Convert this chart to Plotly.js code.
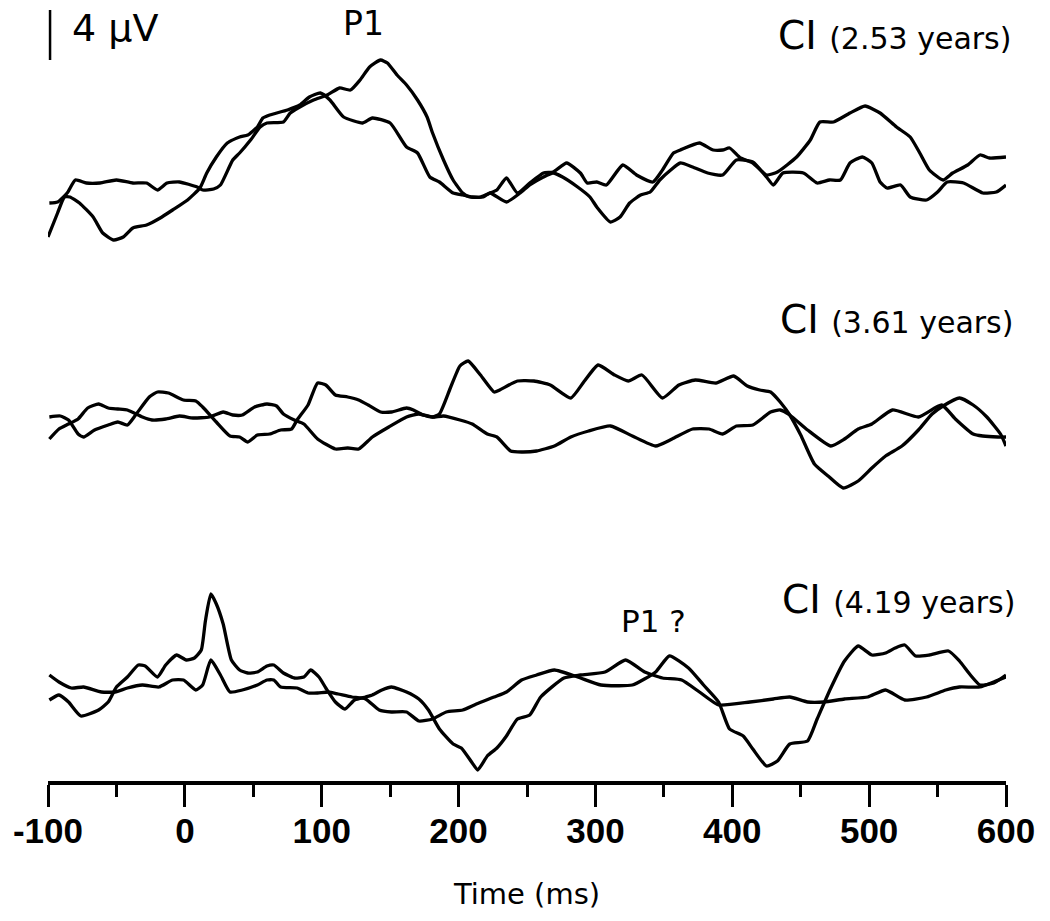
<!DOCTYPE html>
<html>
<head>
<meta charset="utf-8">
<script src="https://cdn.plot.ly/plotly-3.0.1.min.js"></script>
<style>html,body{margin:0;padding:0;background:#fff;}#chart{width:1050px;height:921px;}</style>
</head>
<body>
<div id="chart"></div>
<script>
// ---------------- DATA (time in ms, amplitude in microvolts) ----------------
// Panel 1: CI (2.53 years)
const tP1a = [-99,-93,-86,-80,-72,-62,-50,-38,-28,-20,-13,-4,9,13,21,26,35,40,48,55,60,72,77,84,94,104,113,121,128,135,143,148,155,162,170,177,181,189,196,203,208,216,223,228,235,243,252,262,269,279,289,294,301,308,320,330,342,349,357,362,376,386,393,398,406,415,425,433,447,457,464,474,486,497,508,520,530,537,544,554,561,572,581,588,600];
const vP1a = [-0.64,-0.56,0.16,1.2,0.96,0.96,1.2,0.96,0.96,0.4,0.96,1.04,0.64,0.4,0.48,0.8,2.8,3.36,4.4,5.44,5.76,5.84,6.56,7.04,7.6,8.0,8.56,8.4,9.2,10.24,10.8,10.56,9.6,8.8,7.6,6.24,4.96,2.8,1.2,0.16,-0.16,-0.16,0.16,0.4,1.36,0.16,0.96,1.76,1.84,2.56,1.76,0.96,1.04,0.8,2.4,1.6,1.04,2.0,3.36,3.6,4.16,3.6,3.6,3.76,2.96,2.56,1.6,1.84,3.04,4.4,5.84,5.84,6.56,7.12,6.56,5.44,4.64,3.36,2.0,1.2,1.76,2.4,3.2,2.96,3.04];
const tP1b = [-100,-93,-88,-84,-77,-67,-60,-52,-45,-38,-28,-18,-9,2,11,16,23,31,40,46,53,57,62,75,84,91,99,106,116,130,137,150,162,170,179,186,196,203,210,218,223,235,245,252,262,269,276,287,296,301,311,318,325,333,340,347,355,362,371,382,393,403,415,425,430,437,452,462,471,479,486,495,502,508,513,523,530,542,550,557,569,583,593,600];
const vP1b = [-3.36,-1.44,-0.16,-0.16,-0.64,-1.76,-3.04,-3.6,-3.36,-2.64,-2.4,-1.84,-1.2,-0.4,0.56,1.76,3.04,4.16,4.64,4.8,5.44,6.16,6.4,6.8,7.2,7.84,8.16,7.6,6.24,5.76,6.16,5.76,3.84,3.36,1.44,1.04,0.16,0,-0.16,-0.16,0.16,-0.56,0.16,0.8,1.44,1.76,1.44,0.64,-0.16,-0.96,-2.16,-1.76,-0.64,0,0.24,1.2,2.0,2.56,2.24,1.76,1.6,2.8,2.64,1.44,0.8,1.76,1.76,0.96,1.2,1.2,2.56,3.04,2.56,1.04,0.56,0.8,-0.16,-0.4,0.24,1.04,0.96,0.16,0.24,0.8];

// Panel 2: CI (3.61 years)
const tP2a = [-99,-91,-85,-78,-74,-66,-56,-49,-42,-36,-26,-20,-12,-1,8,13,23,33,40,46,53,62,70,78,82,90,97,103,110,119,127,134,143,151,162,167,174,181,186,194,201,207,216,226,230,243,255,267,282,292,302,314,324,334,349,361,373,388,401,411,420,428,435,442,450,460,470,481,492,502,512,524,536,546,554,566,576,586,596,600];
const vP2a = [0.24,0.32,0,-1.12,-1.36,-0.8,-0.4,-0.16,-0.4,0.4,1.84,2.24,2.16,1.6,1.52,1.04,-0.16,-1.28,-1.36,-1.76,-1.2,-1.12,-0.8,-0.72,0,1.2,2.96,2.8,2.0,1.84,1.6,1.2,0.64,0.64,0.96,0.8,0.4,0.24,0.48,2.56,4.32,4.72,3.6,2.24,2.4,3.12,3.12,2.8,1.76,3.12,4.4,3.6,3.12,3.6,1.76,2.8,3.2,2.96,3.52,2.72,2.4,2.24,1.44,0.4,-1.2,-3.52,-4.48,-5.44,-4.88,-3.84,-2.88,-2.08,-0.8,0.48,1.12,1.76,1.2,0.24,-1.12,-2.08];
const tP2b = [-99,-92,-85,-78,-71,-63,-56,-49,-42,-31,-24,-14,-4,6,18,28,35,42,51,60,67,72,80,87,97,110,119,127,137,149,162,171,181,189,201,210,221,228,238,246,257,270,282,295,311,327,344,356,371,383,393,403,415,428,435,442,455,472,482,492,502,517,536,553,563,576,583,594,600];
const vP2b = [-1.52,-0.72,-0.32,0.08,0.96,1.28,0.96,0.88,0.8,0.24,0,0.08,0.32,0.16,0.24,0.64,0.4,0.4,1.04,1.28,1.12,0.48,0,-0.32,-1.52,-2.32,-2.24,-2.32,-1.36,-0.56,0.24,0.48,0.24,0.32,0,-0.32,-1.12,-1.36,-2.48,-2.56,-2.48,-2.08,-1.36,-0.88,-0.48,-1.28,-2.08,-1.52,-0.72,-0.72,-1.12,-0.48,-0.4,0.64,0.8,0.4,-0.8,-2.08,-1.52,-0.72,-0.32,0.8,0.24,1.2,0.08,-1.12,-1.28,-1.36,-1.36];

// Panel 3: CI (4.19 years)
const tP3a = [-99,-92,-85,-76,-63,-56,-50,-42,-34,-29,-20,-14,-6,1,7,12,15,19,23,28,34,40,46,53,60,65,72,80,87,92,98,103,110,117,124,132,137,144,151,162,171,178,186,196,202,210,214,221,228,235,243,252,260,277,289,307,322,336,349,363,376,390,413,430,442,455,467,482,499,512,526,542,556,566,581,591,600];
const vP3a = [-1.2,-0.8,-1.36,-2.48,-2.0,-1.36,-0.16,0.64,1.6,1.52,0.64,1.6,2.4,2.0,2.16,2.8,5.12,7.28,6.48,4.88,2.0,1.2,0.96,1.04,1.52,1.6,0.96,0.56,0.64,1.2,0.64,-0.24,-1.36,-1.92,-1.2,-0.96,-0.8,-0.4,-0.16,-0.56,-1.12,-2.0,-3.52,-4.72,-5.04,-6.24,-6.8,-5.68,-5.04,-4.08,-2.72,-2.4,-0.96,0.56,0.8,1.04,2.0,1.04,0.56,0.4,-0.56,-1.6,-1.36,-1.12,-0.96,-1.36,-1.36,-1.12,-0.96,-0.4,-1.2,-0.96,-0.4,-0.16,-0.16,0.24,0.64];
const tP3b = [-99,-92,-83,-74,-61,-51,-42,-31,-19,-9,-1,8,13,19,26,33,42,53,60,65,70,82,90,97,105,112,122,132,142,151,162,171,181,191,203,213,226,235,246,257,270,287,304,327,344,354,368,379,390,398,408,415,425,433,442,455,462,472,482,492,502,512,519,526,534,544,558,566,574,581,591,600];
const vP3b = [0.8,0.24,-0.24,-0.16,-0.56,-0.56,-0.24,0,-0.16,0.4,0.4,-0.4,0,2.0,0.8,-0.56,-0.4,0,0.4,0.4,-0.16,-0.24,-0.64,-0.64,-0.56,-0.72,-0.96,-1.12,-2.0,-2.16,-2.16,-2.88,-2.72,-2.16,-2.0,-1.52,-0.96,-0.56,0.4,0.8,1.2,0.64,0,0,1.04,2.32,1.36,0,-1.36,-3.52,-4.08,-5.12,-6.48,-6.08,-4.72,-4.48,-2.72,-0.24,1.92,3.12,2.4,2.56,2.96,3.2,2.32,2.4,2.72,1.92,0.8,0,0.16,0.8];

const panelLabels = ["2.53 years", "3.61 years", "4.19 years"];
const xTickVals = [-100, 0, 100, 200, 300, 400, 500, 600];
const scaleBarUV = 4;

// ---------------- LAYOUT / DRAWING ----------------
const W = 1050, H = 921;
const mL = 48, mR = 44, mT = 0, mB = 140;
const plotW = W - mL - mR, plotH = H - mT - mB;
const pxPerUV = 12.5;                       // vertical scale
const yMax = plotH / pxPerUV;               // y range in microvolts
const offsets = [(plotH - 195) / pxPerUV, (plotH - 420) / pxPerUV, (plotH - 685) / pxPerUV];

const px2x = p => (p - mL) / plotW;         // pixel -> paper
const py2y = p => (plotH + mT - p) / plotH;

const series = [
  [tP1a, vP1a, 0], [tP1b, vP1b, 0],
  [tP2a, vP2a, 1], [tP2b, vP2b, 1],
  [tP3a, vP3a, 2], [tP3b, vP3b, 2]
];
const traces = series.map(([t, v, p]) => ({
  x: t, y: v.map(d => d + offsets[p]), type: 'scatter', mode: 'lines',
  line: {color: '#000', width: 3.3, shape: 'spline', smoothing: 0.5},
  hoverinfo: 'skip', showlegend: false
}));

const txtFont = 'DejaVu Sans, Arial, sans-serif';
const labelBottoms = [60, 344, 624];
const labelRights = [1013, 1015, 1017];
const annotations = panelLabels.map((lab, i) => ({
  xref: 'paper', yref: 'paper', x: px2x(labelRights[i]), y: py2y(labelBottoms[i]),
  xanchor: 'right', yanchor: 'bottom', showarrow: false,
  text: 'CI <span style="font-size:30px">(' + lab + ')</span>',
  font: {family: txtFont, size: 39, color: '#000'}
}));
annotations.push(
  {xref: 'paper', yref: 'paper', x: px2x(363), y: py2y(45), xanchor: 'center', yanchor: 'bottom', showarrow: false,
   text: 'P1', font: {family: txtFont, size: 33, color: '#000'}},
  {xref: 'paper', yref: 'paper', x: px2x(653), y: py2y(641), xanchor: 'center', yanchor: 'bottom', showarrow: false,
   text: 'P1 ?', font: {family: txtFont, size: 31, color: '#000'}},
  {xref: 'paper', yref: 'paper', x: px2x(70), y: py2y(52), xanchor: 'left', yanchor: 'bottom', showarrow: false,
   text: scaleBarUV + ' μV', font: {family: txtFont, size: 38, color: '#000'}}
);

const shapes = [{
  type: 'line', xref: 'x', yref: 'y',
  x0: -98.5, x1: -98.5, y0: yMax - 60 / pxPerUV, y1: yMax - 60 / pxPerUV + scaleBarUV,
  line: {color: '#000', width: 2.5}
}];

const layout = {
  width: W, height: H,
  margin: {l: mL, r: mR, t: mT, b: mB, pad: 0},
  paper_bgcolor: '#fff', plot_bgcolor: '#fff',
  showlegend: false, hovermode: false,
  xaxis: {
    range: [-100, 600], tickvals: xTickVals, ticktext: xTickVals.map(String),
    showgrid: false, zeroline: false, showline: true, linecolor: '#000', linewidth: 4,
    ticks: 'outside', ticklen: 22, tickwidth: 3, tickcolor: '#000',
    minor: {dtick: 50, tick0: -100, ticks: 'outside', ticklen: 12, tickwidth: 3, tickcolor: '#000', showgrid: false},
    tickfont: {family: 'Liberation Sans, Arial, sans-serif', size: 35, color: '#000', weight: 'bold'},
    ticklabelstandoff: -6,
    title: {text: 'Time (ms)', font: {family: txtFont, size: 29, color: '#000'}, standoff: 36},
    automargin: false, fixedrange: true
  },
  yaxis: {range: [0, yMax], visible: false, fixedrange: true},
  annotations: annotations, shapes: shapes
};

Plotly.newPlot('chart', traces, layout, {staticPlot: true, displayModeBar: false});
</script>
</body>
</html>
